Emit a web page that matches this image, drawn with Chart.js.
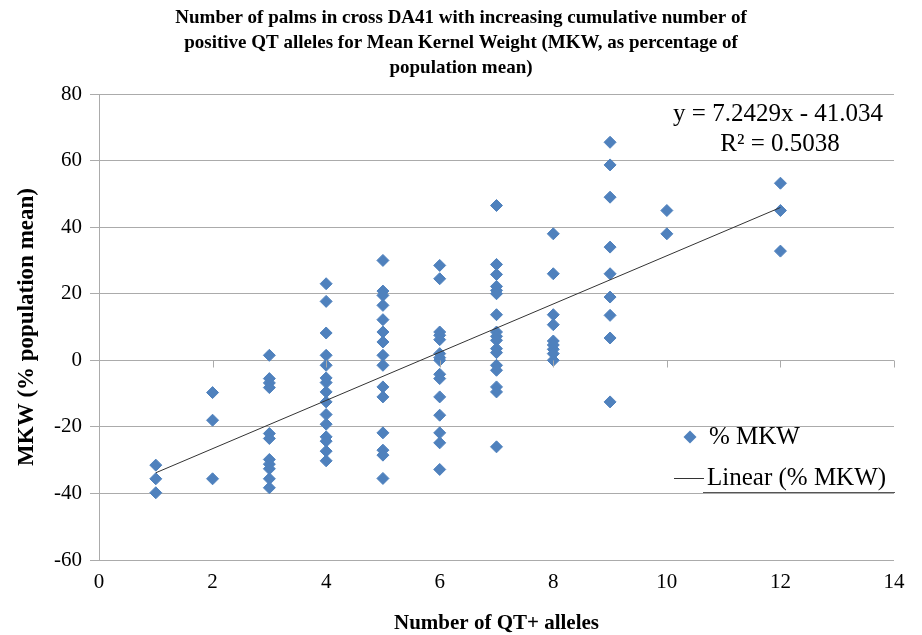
<!DOCTYPE html>
<html>
<head>
<meta charset="utf-8">
<script src="https://cdn.jsdelivr.net/npm/chart.js@4/dist/chart.umd.min.js"></script>
<style>
  body { margin: 0; background: #fff; }
  canvas { display: block; }
</style>
</head>
<body>
<canvas id="mkwChart" width="922" height="635"></canvas>
<script>
// number of QT+ alleles and the MKW values (% of population mean) seen at each count
var alleleCounts = [1, 2, 3, 4, 5, 6, 7, 8, 9, 10, 12];
var mkwByCount = [
    [-31.5, -35.6, -39.8],
    [-9.7, -18, -35.6],
    [1.5, -5.5, -6.8, -8.2, -22, -23.5, -29.8, -31.2, -32.6, -35.6, -38.3],
    [23, 17.7, 8.2, 1.5, -1.5, -5.3, -6.7, -9.5, -12.5, -16.3, -19.2, -23, -24.3, -27.3, -30.2],
    [30, 20.8, 19.5, 16.5, 12.2, 8.5, 5.5, 1.5, -1.5, -8, -11, -21.8, -27, -28.5, -35.5],
    [28.5, 24.5, 8.5, 7.5, 6.2, 2, 0.8, 0, -4.2, -5.5, -11, -16.5, -21.8, -24.8, -32.8],
    [46.5, 28.8, 25.8, 22.2, 21, 20, 13.7, 8.5, 7.2, 6, 3.5, 2.3, -1.5, -3, -8, -9.5, -26],
    [38, 26, 13.7, 10.7, 5.8, 4.6, 3.3, 2, 0],
    [65.5, 58.7, 49, 34, 26, 19, 13.5, 6.7, -12.5],
    [45, 38],
    [53.2, 45, 32.8]
];

// trendline end points as drawn
var trendX = [1, 12];
var trendY = [-33.8, 45.9];

var titleLines = [
    'Number of palms in cross DA41 with increasing cumulative number of',
    'positive QT alleles for Mean Kernel Weight (MKW, as percentage of',
    'population mean)'
];
var equationText = 'y = 7.2429x - 41.034';
var r2Text = 'R² = 0.5038';
var seriesName = '% MKW';
var trendName = 'Linear (% MKW)';

var blue = '#4F81BD';
var gridGrey = '#ababab';
var serif = '"Liberation Serif", "Times New Roman", serif';

var points = [];
alleleCounts.forEach(function(n, i) {
    mkwByCount[i].forEach(function(v) {
        points.push({x: n, y: v});
    });
});
var trendPoints = trendX.map(function(x, i) { return {x: x, y: trendY[i]}; });

// small tick marks on the horizontal axis, which crosses at y = 0
var zeroAxisTicks = {
    id: 'zeroAxisTicks',
    afterDatasetsDraw: function(chart) {
        var ctx = chart.ctx, xs = chart.scales.x, ys = chart.scales.y;
        var y0 = Math.round(ys.getPixelForValue(0)) + 0.5;
        ctx.save();
        ctx.strokeStyle = gridGrey;
        ctx.lineWidth = 1;
        ctx.beginPath();
        xs.ticks.forEach(function(t) {
            var px = Math.round(xs.getPixelForValue(t.value)) + 0.5;
            ctx.moveTo(px, y0);
            ctx.lineTo(px, y0 + 7);
        });
        ctx.stroke();
        ctx.restore();
    }
};

// legend and regression equation, drawn inside the plot area like Excel does
var insideText = {
    id: 'insideText',
    afterDraw: function(chart) {
        var ctx = chart.ctx, a = chart.chartArea;
        ctx.save();
        ctx.fillStyle = '#000';
        ctx.font = '25px ' + serif;
        ctx.textAlign = 'center';
        ctx.textBaseline = 'middle';
        ctx.fillText(equationText, a.right - 116, a.top + 20);
        ctx.fillText(r2Text, a.right - 114, a.top + 50);

        // legend
        var lx = a.right - 204, ly1 = a.top + 343, ly2 = a.top + 384;
        ctx.fillStyle = blue;
        ctx.beginPath();
        ctx.moveTo(lx, ly1 - 6.5);
        ctx.lineTo(lx + 6.5, ly1);
        ctx.lineTo(lx, ly1 + 6.5);
        ctx.lineTo(lx - 6.5, ly1);
        ctx.closePath();
        ctx.fill();

        ctx.fillStyle = '#000';
        ctx.textAlign = 'left';
        ctx.fillText(seriesName, lx + 19, ly1);

        ctx.strokeStyle = '#333';
        ctx.lineWidth = 1;
        ctx.beginPath();
        ctx.moveTo(lx - 16, ly2 + 0.5);
        ctx.lineTo(lx + 14, ly2 + 0.5);
        ctx.stroke();
        ctx.fillText(trendName, lx + 17, ly2);

        ctx.strokeStyle = '#555';
        ctx.beginPath();
        ctx.moveTo(lx + 13, ly2 + 14.5);
        ctx.lineTo(a.right + 1, ly2 + 14.5);
        ctx.stroke();
        ctx.restore();
    }
};

var ctx = document.getElementById('mkwChart').getContext('2d');
var mkwChart = new Chart(ctx, {
    type: 'scatter',
    data: {
        datasets: [{
            label: seriesName,
            data: points,
            pointStyle: 'rectRot',
            pointRadius: 6,
            pointBackgroundColor: blue,
            pointBorderColor: blue,
            pointBorderWidth: 1,
            order: 2
        }, {
            type: 'line',
            label: trendName,
            data: trendPoints,
            borderColor: '#333',
            borderWidth: 1,
            pointRadius: 0,
            fill: false,
            order: 1
        }]
    },
    options: {
        responsive: false,
        animation: false,
        layout: { padding: 0 },
        plugins: {
            legend: { display: false },
            tooltip: { enabled: false },
            title: {
                display: true,
                text: titleLines,
                color: '#000',
                font: { family: serif, size: 19, weight: 'bold', lineHeight: 1.316 },
                padding: { top: 6, bottom: 13 }
            }
        },
        scales: {
            x: {
                type: 'linear',
                min: 0,
                max: 14,
                ticks: {
                    stepSize: 2,
                    color: '#000',
                    padding: 10,
                    font: { family: serif, size: 21 }
                },
                grid: { drawOnChartArea: false, drawTicks: false },
                border: { display: false },
                title: {
                    display: true,
                    text: 'Number of QT+ alleles',
                    color: '#000',
                    font: { family: serif, size: 21, weight: 'bold', lineHeight: 1.1 },
                    padding: { top: 0, bottom: 0 }
                },
                afterFit: function(scale) {
                    scale.height = 75;
                    // keep the plot clear of the right edge without shifting the title
                    scale.paddingRight = 28;
                }
            },
            y: {
                min: -60,
                max: 80,
                ticks: {
                    stepSize: 20,
                    color: '#000',
                    padding: 8,
                    font: { family: serif, size: 21 }
                },
                grid: { color: gridGrey, tickLength: 9, lineWidth: 1 },
                border: { color: gridGrey },
                title: {
                    display: true,
                    text: 'MKW (% population mean)',
                    color: '#000',
                    font: { family: serif, size: 23, weight: 'bold', lineHeight: 1.2 },
                    padding: { top: 13, bottom: 0 }
                },
                afterFit: function(scale) { scale.width = 99; }
            }
        }
    },
    plugins: [zeroAxisTicks, insideText]
});
</script>
</body>
</html>
